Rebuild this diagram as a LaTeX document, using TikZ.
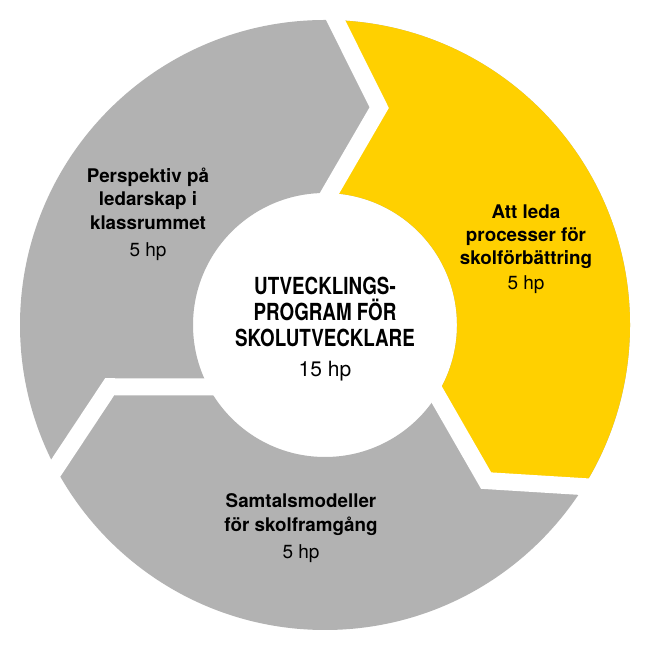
\documentclass[tikz,border=0pt]{standalone}
\usepackage{fontspec}
\setmainfont{TeX Gyre Heros}
\newfontfamily\condfont[FakeStretch=0.8]{TeX Gyre Heros}
\usetikzlibrary{calc}
\definecolor{ringgrey}{RGB}{178,178,178}
\definecolor{ringyellow}{RGB}{255,208,0}
\begin{document}
\begin{tikzpicture}[x=1pt,y=1pt,
  lbl/.style={inner sep=0pt, anchor=base, font=\fontsize{18.8}{22}\selectfont\bfseries},
  hp/.style={inner sep=0pt, anchor=base, font=\fontsize{19}{22}\selectfont},
  ttl/.style={inner sep=0pt, anchor=base, font=\condfont\bfseries\fontsize{23.5}{26}\selectfont},
  ttlhp/.style={inner sep=0pt, anchor=base, font=\fontsize{21}{24}\selectfont},
  gap/.style={draw=white, line width=17pt, line join=miter, miter limit=20}]
\fill[white] (0,0) rectangle (650,650);
\useasboundingbox (0,0) rectangle (650,650);
\coordinate (c) at (325,325);
\def\Ro{305}
\def\Ri{132}
\def\Rt{224}
% ring
\fill[ringgrey, even odd rule] (c) circle (\Ro) (c) circle (\Ri);
% yellow segment
\fill[ringyellow] ($(c)+(88:\Ro)$) arc[start angle=88, end angle=-32, radius=\Ro]
  -- ($(c)+(-44:\Rt)$) -- ($(c)+(-32:\Ri)$)
  arc[start angle=-32, end angle=88, radius=\Ri]
  -- ($(c)+(76:\Rt)$) -- cycle;
% white chevron gaps
\foreach \t [count=\i] in {88,-32,208} {
  \coordinate (out\i) at ($(c)+(\t:\Ro)$);
  \coordinate (tip\i) at ($(c)+({\t-12}:\Rt)$);
  \coordinate (in\i) at ($(c)+(\t:\Ri)$);
  \draw[gap] ($(tip\i)!1.4!(out\i)$) -- (tip\i) -- ($(tip\i)!1.4!(in\i)$);
}
% Perspektiv
\node[lbl] (p1) at (148,467) {Perspektiv på};
\node[lbl] (p2) at (148,444) {ledarskap i};
\node[lbl] (p3) at (148,420) {klassrummet};
\node[hp]  (p4) at (148,393) {5 hp};
% Att leda
\node[lbl] (a1) at (526,431) {Att leda};
\node[lbl] (a2) at (526,408) {processer för};
\node[lbl] (a3) at (526,385) {skolförbättring};
\node[hp]  (a4) at (526,360) {5 hp};
% Samtals
\node[lbl] (s1) at (301,142) {Samtalsmodeller};
\node[lbl] (s2) at (301,118) {för skolframgång};
\node[hp]  (s3) at (301,91) {5 hp};
% Title
\node[ttl] (t1) at (325,355) {UTVECKLINGS-};
\node[ttl] (t2) at (325,329) {PROGRAM FÖR};
\node[ttl] (t3) at (325,303) {SKOLUTVECKLARE};
\node[ttlhp] (t4) at (325,273) {15 hp};
\end{tikzpicture}
\end{document}
